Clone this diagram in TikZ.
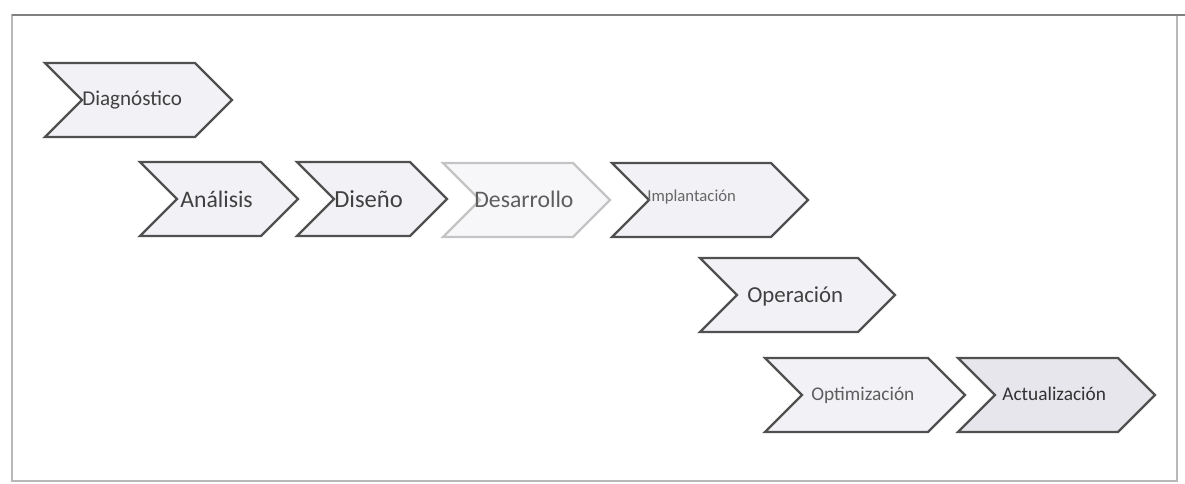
\documentclass[tikz,border=0pt]{standalone}
\usepackage{fontspec}
\setmainfont{Carlito}
\usepackage{tikz}
\usetikzlibrary{calc}

\definecolor{chevfill}{HTML}{F2F2F6}
\definecolor{chevfilldark}{HTML}{E6E6EC}
\definecolor{chevline}{HTML}{505050}
\definecolor{chevlight}{HTML}{C4C4C4}
\definecolor{chevtext}{HTML}{404040}
\definecolor{framegray}{HTML}{B8B8B8}

\tikzset{
  chev/.style={draw=chevline, fill=chevfill, line width=1.3pt, line join=miter},
  phase/.style={anchor=west, inner sep=0pt, text=chevtext},
}

% chevron: [style] left x, top y, tip x (height 74, point 37)
\newcommand{\chevron}[4][]{%
  \draw[chev,#1] (#2,#3) -- ({#4-37},#3) -- (#4,{#3+37}) -- ({#4-37},{#3+74})
    -- (#2,{#3+74}) -- ({#2+37},{#3+37}) -- cycle;}

\begin{document}
\begin{tikzpicture}[x=0.02cm,y=-0.02cm]
\useasboundingbox (0,0) rectangle (1185,483);
\fill[white] (0,0) rectangle (1185,483);

% frame
\draw[framegray, line width=0.8pt] (12,15) rectangle (1177,481);
\draw[gray, line width=1pt] (12,15) -- (1185,15);

% first row
\chevron{45}{63}{232}
\node[phase, font=\fontsize{12}{14}\selectfont] (diag) at (82,100) {Diagnóstico};

% second row
\chevron{140}{162}{298}
\node[phase, font=\fontsize{13.5}{15}\selectfont] (anal) at (180,199) {Análisis};
\chevron{297}{162}{447}
\node[phase, font=\fontsize{14}{16}\selectfont] (dise) at (334,199) {Diseño};
\chevron[draw=chevlight, fill=chevfill!60]{443}{163}{610}
\node[phase, font=\fontsize{13.5}{15}\selectfont, text=chevtext!85] (desa) at (474,199) {Desarrollo};
\chevron{612}{163}{808}
\node[phase, font=\fontsize{9.5}{11}\selectfont, text=chevtext!80] (impl) at (647,197) {Implantación};

% third row
\chevron{700}{258}{895}
\node[phase, font=\fontsize{13}{15}\selectfont] (oper) at (747,296) {Operación};

% fourth row
\chevron{765}{358}{965}
\node[phase, font=\fontsize{11}{13}\selectfont, text=chevtext!85] (opti) at (811,395) {Optimización};
\chevron[fill=chevfilldark]{958}{358}{1155}
\node[phase, font=\fontsize{11}{13}\selectfont, text=black!80] (actu) at (1002,394) {Actualización};
\end{tikzpicture}
\end{document}
